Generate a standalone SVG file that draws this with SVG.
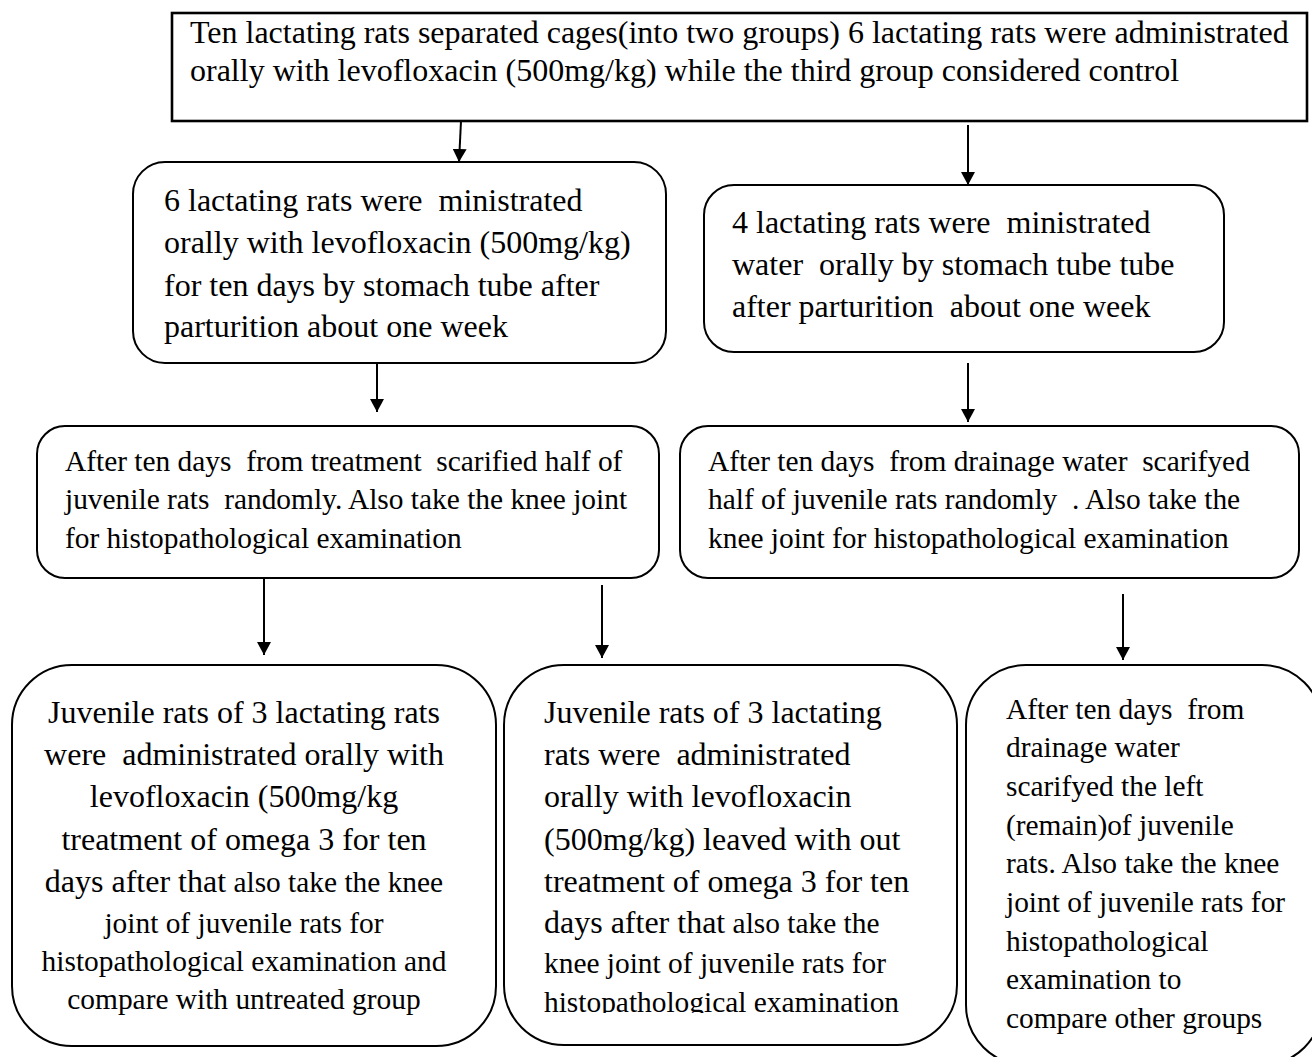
<svg xmlns="http://www.w3.org/2000/svg" width="1312" height="1057" viewBox="0 0 1312 1057">
<style>
.box{fill:#fff;stroke:#000;stroke-width:2}
.top{stroke-width:2.6}
.t{font-family:"Liberation Serif","Times New Roman",serif;fill:#000}
.l{font-size:32px}
.s{font-size:29.4px}
.c{stroke:#000;stroke-width:2;fill:none}
</style>
<defs>
<marker id="ah" markerUnits="userSpaceOnUse" markerWidth="13" markerHeight="14" viewBox="0 0 13 14" refX="13" refY="7" orient="auto"><path d="M0,0 L13,7 L0,14 z" fill="#000"/></marker>
<clipPath id="clipMid"><rect x="504" y="665" width="453" height="348"/></clipPath>
</defs>
<rect width="1312" height="1057" fill="#fff"/>
<g id="connectors">
<line class="c" x1="461" y1="121" x2="459" y2="162" marker-end="url(#ah)"/>
<line class="c" x1="968" y1="125" x2="968" y2="185" marker-end="url(#ah)"/>
<line class="c" x1="377" y1="364" x2="377" y2="412" marker-end="url(#ah)"/>
<line class="c" x1="968" y1="363" x2="968" y2="422" marker-end="url(#ah)"/>
<line class="c" x1="264" y1="579" x2="264" y2="655" marker-end="url(#ah)"/>
<line class="c" x1="602" y1="585" x2="602" y2="658" marker-end="url(#ah)"/>
<line class="c" x1="1123" y1="594" x2="1123" y2="660" marker-end="url(#ah)"/>
</g>
<g id="n1">
<rect class="box top" x="172" y="13" width="1135" height="108"/>
<text class="t l" x="190" y="43" xml:space="preserve">Ten lactating rats separated cages(into two groups) 6 lactating rats were administrated</text>
<text class="t l" x="190" y="81" xml:space="preserve">orally with levofloxacin (500mg/kg) while the third group considered control</text>
</g>
<g id="n2">
<rect class="box" x="133" y="162" width="533" height="201" rx="32"/>
<text class="t l" xml:space="preserve"><tspan x="164" y="211">6 lactating rats were  ministrated</tspan><tspan x="164" y="253">orally with levofloxacin (500mg/kg)</tspan><tspan x="164" y="296">for ten days by stomach tube after</tspan><tspan x="164" y="337">parturition about one week</tspan></text>
</g>
<g id="n3">
<rect class="box" x="704" y="185" width="520" height="167" rx="30"/>
<text class="t l" xml:space="preserve"><tspan x="732" y="233">4 lactating rats were  ministrated</tspan><tspan x="732" y="275">water  orally by stomach tube tube</tspan><tspan x="732" y="317">after parturition  about one week</tspan></text>
</g>
<g id="n4">
<rect class="box" x="37" y="426" width="622" height="152" rx="28"/>
<text class="t s" xml:space="preserve"><tspan x="65" y="471">After ten days  from treatment  scarified half of</tspan><tspan x="65" y="509">juvenile rats  randomly. Also take the knee joint</tspan><tspan x="65" y="548">for histopathological examination</tspan></text>
</g>
<g id="n5">
<rect class="box" x="680" y="426" width="619" height="152" rx="28"/>
<text class="t s" xml:space="preserve"><tspan x="708" y="471">After ten days  from drainage water  scarifyed</tspan><tspan x="708" y="509">half of juvenile rats randomly  . Also take the</tspan><tspan x="708" y="548">knee joint for histopathological examination</tspan></text>
</g>
<g id="n6">
<rect class="box" x="12" y="665" width="484" height="381" rx="60"/>
<text class="t l" text-anchor="middle" xml:space="preserve"><tspan x="244" y="723">Juvenile rats of 3 lactating rats</tspan><tspan x="244" y="765">were  administrated orally with</tspan><tspan x="244" y="807">levofloxacin (500mg/kg</tspan><tspan x="244" y="850">treatment of omega 3 for ten</tspan><tspan x="244" y="892">days after that<tspan class="s"> also take the knee</tspan></tspan><tspan class="s" x="244" y="933">joint of juvenile rats for</tspan><tspan class="s" x="244" y="971">histopathological examination and</tspan><tspan class="s" x="244" y="1009">compare with untreated group</tspan></text>
</g>
<g id="n7">
<rect class="box" x="504" y="665" width="453" height="380" rx="60"/>
<text class="t l" clip-path="url(#clipMid)" xml:space="preserve"><tspan x="544" y="723">Juvenile rats of 3 lactating</tspan><tspan x="544" y="765">rats were  administrated</tspan><tspan x="544" y="807">orally with levofloxacin</tspan><tspan x="544" y="850">(500mg/kg) leaved with out</tspan><tspan x="544" y="892">treatment of omega 3 for ten</tspan><tspan x="544" y="933">days after that<tspan class="s"> also take the</tspan></tspan><tspan class="s" x="544" y="973">knee joint of juvenile rats for</tspan><tspan class="s" x="544" y="1012">histopathological examination</tspan></text>
</g>
<g id="n8">
<rect class="box" x="966" y="665" width="356" height="400" rx="60"/>
<text class="t s" xml:space="preserve"><tspan x="1006" y="719">After ten days  from</tspan><tspan x="1006" y="757">drainage water</tspan><tspan x="1006" y="796">scarifyed the left</tspan><tspan x="1006" y="835">(remain)of juvenile</tspan><tspan x="1006" y="873">rats. Also take the knee</tspan><tspan x="1006" y="912">joint of juvenile rats for</tspan><tspan x="1006" y="951">histopathological</tspan><tspan x="1006" y="989">examination to</tspan><tspan x="1006" y="1028">compare other groups</tspan></text>
</g>
</svg>
